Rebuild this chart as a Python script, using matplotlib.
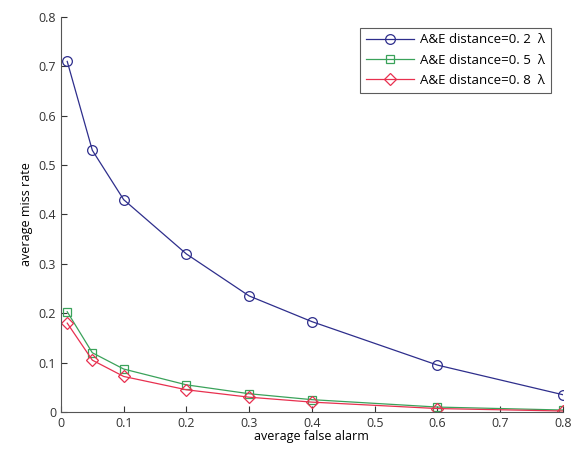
import numpy as np
from matplotlib import pyplot as plt

false_alarm = [0.01, 0.05, 0.1, 0.2, 0.3, 0.4, 0.6, 0.8]
miss_02 = [0.71, 0.53, 0.43, 0.32, 0.235, 0.183, 0.095, 0.035]
miss_05 = [0.203, 0.12, 0.087, 0.055, 0.037, 0.025, 0.010, 0.004]
miss_08 = [0.180, 0.105, 0.072, 0.045, 0.030, 0.020, 0.007, 0.002]
labels = ["A&E distance=0. 2  \u03bb", "A&E distance=0. 5  \u03bb", "A&E distance=0. 8  \u03bb"]

plt.rcParams['font.family'] = ['Open Sans', 'DejaVu Sans']

fig = plt.figure(figsize=(5.75, 4.53), dpi=100)
ax = fig.add_axes([0.106, 0.0905, 0.873, 0.872])

ax.plot(false_alarm, miss_02, color="#2e2e8c", lw=0.9, marker="o", ms=7,
        mfc="none", mew=0.9, label=labels[0])
ax.plot(false_alarm, miss_05, color="#3aa25a", lw=0.9, marker="s", ms=6,
        mfc="none", mew=0.9, label=labels[1])
ax.plot(false_alarm, miss_08, color="#e8304f", lw=0.9, marker="D", ms=6,
        mfc="none", mew=0.9, label=labels[2])

ax.set_xlim(0, 0.8)
ax.set_ylim(0, 0.8)
ax.set_xticks(np.arange(0, 0.81, 0.1))
ax.set_yticks(np.arange(0, 0.81, 0.1))
ax.set_xticklabels(["0", "0.1", "0.2", "0.3", "0.4", "0.5", "0.6", "0.7", "0.8"])
ax.set_yticklabels(["0", "0.1", "0.2", "0.3", "0.4", "0.5", "0.6", "0.7", "0.8"])
ax.tick_params(direction="in", length=4, labelsize=9, colors="#333333")
for side in ["top", "right"]:
    ax.spines[side].set_visible(False)
for side in ["left", "bottom"]:
    ax.spines[side].set_color("#555555")

ax.set_xlabel("average false alarm", fontsize=9, labelpad=0)
ax.set_ylabel("average miss rate", fontsize=9, labelpad=4)

leg = ax.legend(loc="upper right", bbox_to_anchor=(0.99, 0.99), fontsize=9.5,
                fancybox=False, edgecolor="#333333", handlelength=3.6,
                borderpad=0.45, labelspacing=0.55, handletextpad=0.5)
leg.get_frame().set_linewidth(0.8)

fig.savefig("out.png", dpi=100)
